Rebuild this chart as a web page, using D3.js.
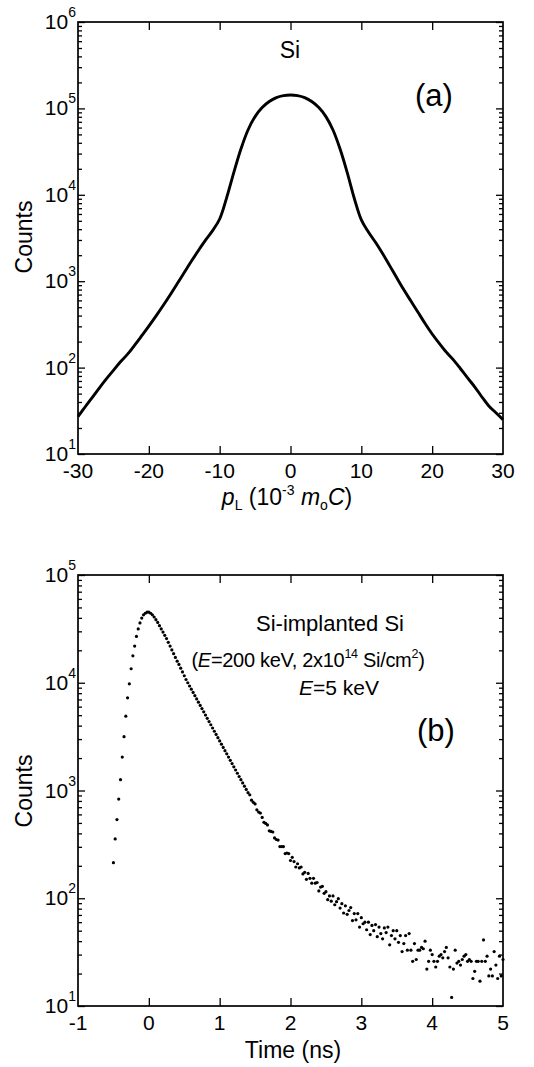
<!DOCTYPE html>
<html><head><meta charset="utf-8">
<script src="https://cdn.jsdelivr.net/npm/d3@7"></script>
<style>
body{margin:0;background:#fff}
text{font-family:"Liberation Sans",Arial,Helvetica,sans-serif;fill:#000}
</style>
</head><body>
<svg id="chart" width="534" height="1067"></svg>
<script>
// ---------- Panel (a): Doppler broadening spectrum of Si ----------
const momentumP = [-30,-29,-28,-27,-26,-25,-24,-23,-22,-21,-20,-19,-18,-17,-16,-15,-14,-13,-12,-11,
  -10,-9,-8,-7,-6,-5,-4,-3,-2,-1,0,1,2,3,4,5,6,7,8,9,10,
  11,12,13,14,15,16,17,18,19,20,21,22,23,24,25,26,27,28,29,30];
const countsA = [27,35,45,58,74,93,117,143,182,234,302,394,519,692,933,1259,1698,2265,2985,3846,
  5248,9333,18200,33880,56230,80350,102300,120200,133400,140600,142900,140600,133400,120200,102300,80350,56230,33880,18200,9120,5130,
  3715,2818,2089,1514,1096,794,589,437,324,245,191,151,123,97,76,60,46,36,30,25];
const xTicksA = [-30,-20,-10,0,10,20,30];
const decadesA = [1,2,3,4,5,6];

// ---------- Panel (b): positron lifetime spectrum ----------
// channel grid: 25 ps per channel starting at -0.5 ns
const channelTimes = d3.range(221).map(i => -0.5 + i * 0.025);
const countsB = [214,355,537,832,1259,2042,3162,4898,7244,9772,
  13490,17780,21880,26920,31620,35900,39810,42660,44160,45190,
  45190,44160,42660,40740,38460,36310,33880,31620,29510,27540,
  25700,23710,21880,20180,18620,17180,15850,14790,13650,12590,
  11610,10720,10000,9333,8710,8128,7586,7079,6607,6166,
  5754,5370,5012,4677,4365,4074,3802,3548,3311,3090,
  2884,2692,2512,2344,2188,2042,1905,1778,1660,1549,
  1445,1349,1259,1175,1096,1023,955,912,813,776,
  750,661,631,617,562,507,495,479,422,417,
  412,363,351,347,302,302,302,260,263,260,
  224,240,219,195,209,191,195,168,174,150,
  170,153,138,153,138,140,117,127,129,111,
  115,97,105,94,105,87,93,99,81,89,
  73,85,71,77,82,62,72,63,72,54,
  66,58,60,51,60,46,56,50,57,44,
  54,47,42,53,48,54,37,45,50,42,
  50,39,45,32,38,45,33,47,33,26,
  38,27,33,33,35,34,40,22,26,33,
  30,26,23,26,29,30,28,32,35,28,
  23,12,22,33,25,26,24,27,29,30,
  26,27,26,18,21,26,26,17,26,41,
  26,29,19,22,19,32,24,18,29,19,
  27];
const xTicksB = [-1,0,1,2,3,4,5];
const decadesB = [1,2,3,4,5];

const svg = d3.select("#chart");
const FS = 21;   // tick labels
const FT = 23;   // axis titles

const xA = d3.scaleLinear().domain([-30,30]).range([78,503]);
const yA = d3.scaleLog().domain([10,1e6]).range([454,22]);
const xB = d3.scaleLinear().domain([-1,5]).range([78,503]);
const yB = d3.scaleLog().domain([10,1e5]).range([1006,575]);

function frame(x, y, xTicks, decades) {
  const [x0,x1] = x.range();
  const [yb,yt] = y.range();
  const g = svg.append("g");
  const innerX = xTicks.slice(1,-1);
  const majors = decades.map(d => Math.pow(10,d));
  const minors = [];
  decades.slice(0,-1).forEach(d => { for (let m=2;m<=9;m++) minors.push(m*Math.pow(10,d)); });
  const style = s => s.call(a => a.select(".domain").remove())
                     .call(a => a.selectAll("line").attr("stroke","#000").attr("stroke-width",1.3));
  g.append("g").attr("transform",`translate(0,${yb})`)
    .call(d3.axisBottom(x).tickValues(innerX).tickSize(-8).tickFormat("")).call(style);
  g.append("g").attr("transform",`translate(0,${yt})`)
    .call(d3.axisTop(x).tickValues(innerX).tickSize(-8).tickFormat("")).call(style);
  g.append("g").attr("transform",`translate(${x0},0)`)
    .call(d3.axisLeft(y).tickValues(majors).tickSize(-7).tickFormat("")).call(style);
  g.append("g").attr("transform",`translate(${x1},0)`)
    .call(d3.axisRight(y).tickValues(majors).tickSize(-7).tickFormat("")).call(style);
  g.append("g").attr("transform",`translate(${x0},0)`)
    .call(d3.axisLeft(y).tickValues(minors).tickSize(-4).tickFormat("")).call(style);
  g.append("g").attr("transform",`translate(${x1},0)`)
    .call(d3.axisRight(y).tickValues(minors).tickSize(-4).tickFormat("")).call(style);
  g.append("rect").attr("x",x0).attr("y",yt).attr("width",x1-x0).attr("height",yb-yt)
    .attr("fill","none").attr("stroke","#000").attr("stroke-width",1.7);
  g.selectAll("text.xl").data(xTicks).join("text").attr("class","xl")
    .attr("x", d => x(d)).attr("y", yb+24).attr("text-anchor","middle")
    .attr("font-size",FS).text(d => String(d));
  decades.forEach(d => {
    const t = g.append("text").attr("x", x0-2).attr("y", y(Math.pow(10,d))+7)
      .attr("text-anchor","end").attr("font-size",FS);
    t.append("tspan").text("10");
    t.append("tspan").attr("font-size",14).attr("dy",-12).text(String(d));
  });
  return g;
}

frame(xA, yA, xTicksA, decadesA);
frame(xB, yB, xTicksB, decadesB);

// Panel (a) curve
const lineA = d3.line().x((d,i) => xA(momentumP[i])).y(d => yA(d)).curve(d3.curveCatmullRom);
svg.append("path").datum(countsA).attr("d", lineA)
  .attr("fill","none").attr("stroke","#000").attr("stroke-width",2.9);

// Panel (b) points
svg.append("g").selectAll("circle").data(countsB).join("circle")
  .attr("cx", (d,i) => xB(channelTimes[i])).attr("cy", d => yB(d))
  .attr("r", 1.6).attr("fill","#000");

// Texts panel (a)
svg.append("text").attr("x",290).attr("y",58).attr("text-anchor","middle").attr("font-size",FT).text("Si");
svg.append("text").attr("x",434).attr("y",106).attr("text-anchor","middle").attr("font-size",31).text("(a)");
const xlabA = svg.append("text").attr("x",287).attr("y",505).attr("text-anchor","middle").attr("font-size",FT);
xlabA.append("tspan").attr("font-style","italic").text("p");
xlabA.append("tspan").attr("font-size",14).attr("dy",5).text("L");
xlabA.append("tspan").attr("dy",-5).text(" (10");
xlabA.append("tspan").attr("font-size",14).attr("dy",-10).text("-3");
xlabA.append("tspan").attr("dy",10).attr("font-style","italic").text(" m");
xlabA.append("tspan").attr("font-size",14).attr("dy",5).text("o");
xlabA.append("tspan").attr("dy",-5).attr("font-style","italic").text("C");
xlabA.append("tspan").text(")");
svg.append("text").attr("transform","translate(32,237) rotate(-90)").attr("text-anchor","middle")
  .attr("font-size",FT).text("Counts");

// Texts panel (b)
svg.append("text").attr("x",330).attr("y",631).attr("text-anchor","middle").attr("font-size",22).text("Si-implanted Si");
const ann = svg.append("text").attr("x",308).attr("y",667).attr("text-anchor","middle").attr("font-size",20)
  .attr("letter-spacing",-0.3);
ann.append("tspan").text("(");
ann.append("tspan").attr("font-style","italic").text("E");
ann.append("tspan").text("=200 keV, 2x10");
ann.append("tspan").attr("font-size",12.5).attr("dy",-9).text("14");
ann.append("tspan").attr("dy",9).text(" Si/cm");
ann.append("tspan").attr("font-size",12.5).attr("dy",-9).text("2");
ann.append("tspan").attr("dy",9).text(")");
const ann2 = svg.append("text").attr("x",339).attr("y",695).attr("text-anchor","middle").attr("font-size",21);
ann2.append("tspan").attr("font-style","italic").text("E");
ann2.append("tspan").text("=5 keV");
svg.append("text").attr("x",436).attr("y",741).attr("text-anchor","middle").attr("font-size",31).text("(b)");
svg.append("text").attr("x",293).attr("y",1058).attr("text-anchor","middle").attr("font-size",FT).text("Time (ns)");
svg.append("text").attr("transform","translate(32,791) rotate(-90)").attr("text-anchor","middle")
  .attr("font-size",FT).text("Counts");
</script>
</body></html>
